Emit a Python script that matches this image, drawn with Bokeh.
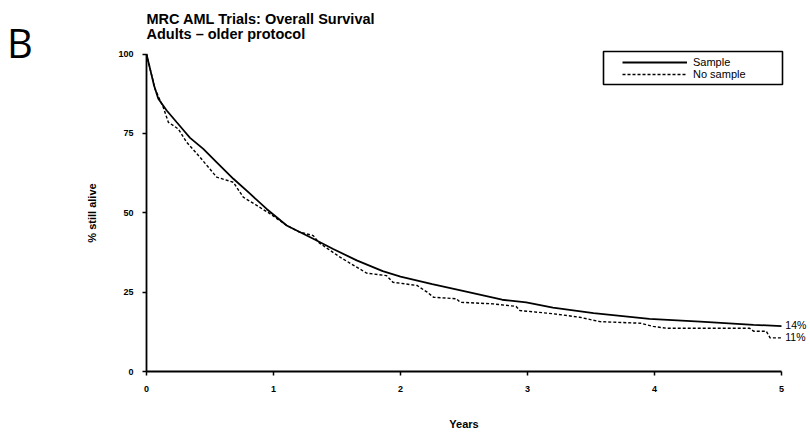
from bokeh.plotting import figure
from bokeh.models import Range1d, Label, BoxAnnotation, Legend, LegendItem, FixedTicker
from bokeh.embed import file_html
from bokeh.resources import INLINE

# ---- data ----
years_sample = [0, 0.03, 0.06, 0.093, 0.159, 0.238, 0.30, 0.343, 0.447, 0.553, 0.684, 0.815,
                0.946, 1.104, 1.313, 1.47, 1.655, 1.86, 2.0, 2.25, 2.5, 2.8, 2.99, 3.2,
                3.52, 3.96, 4.36, 4.78, 5.0]
surv_sample = [100, 95, 90, 85.9, 82.2, 78.5, 75.6, 73.6, 70.1, 65.9, 60.7, 56.0,
               51.2, 46.0, 41.8, 38.6, 35.0, 31.6, 29.9, 27.5, 25.3, 22.6, 21.8, 20.1,
               18.4, 16.6, 15.7, 14.7, 14.3]

years_nosample = [0, 0.067, 0.132, 0.172, 0.25, 0.316, 0.421, 0.553, 0.684, 0.762, 0.868,
                  0.972, 1.104, 1.2, 1.313, 1.36, 1.524, 1.733, 1.89, 1.94, 2.13, 2.21,
                  2.26, 2.44, 2.47, 2.73, 2.91, 2.94, 3.2, 3.41, 3.57, 3.89, 3.99, 4.1,
                  4.75, 4.78, 4.88, 4.91, 5.0]
surv_nosample = [100, 89, 83.2, 78.5, 76.4, 72.2, 67.5, 61.2, 59.6, 54.9, 52.3,
                 49.7, 46.0, 44.0, 42.8, 40.5, 36.0, 31.0, 30.2, 28.1, 27.1, 25.0,
                 23.4, 22.9, 21.8, 21.3, 20.5, 19.2, 18.2, 17.1, 15.7, 15.2, 14.2, 13.6,
                 13.6, 12.7, 12.7, 10.6, 10.6]

series_names = ["Sample", "No sample"]
end_labels = ["14%", "11%"]
x_ticks = [0, 1, 2, 3, 4, 5]
y_ticks = [0, 25, 50, 75, 100]
title_lines = ["MRC AML Trials: Overall Survival", "Adults \u2013 older protocol"]
panel_letter = "B"

FONT = "Liberation Sans"
W, H = 808, 432
X0, XS = 146.0, 127.0      # pixel of year 0, pixels per year
Y0, YS = 371.0, 3.175      # pixel of 0 %, pixels per percent

p = figure(width=W, height=H, output_backend="svg", toolbar_location=None,
           x_range=Range1d(-X0 / XS, (W - X0) / XS),
           y_range=Range1d((Y0 - H) / YS, Y0 / YS),
           min_border_left=0, min_border_right=0, min_border_top=0,
           min_border_bottom=0, x_axis_location="below", y_axis_location="left")
p.outline_line_color = None
p.grid.visible = False
p.background_fill_color = "white"

r1 = p.line(years_sample, surv_sample, line_color="black", line_width=1.8)
r2 = p.line(years_nosample, surv_nosample, line_color="black", line_width=1.4,
            line_dash="3 2")

for ax in (p.xaxis[0], p.yaxis[0]):
    ax.fixed_location = 0
    ax.axis_line_color = "black"
    ax.axis_line_width = 1.8
    ax.major_tick_line_width = 1.5
    ax.major_tick_in = 0
    ax.major_tick_out = 4
    ax.minor_tick_line_color = None
    ax.major_label_text_font = FONT
    ax.major_label_text_font_style = "bold"
    ax.major_label_text_font_size = "9px"
    ax.major_label_text_color = "black"
    ax.axis_label_text_font = FONT
    ax.axis_label_text_font_style = "bold"
    ax.axis_label_text_font_size = "11px"
    ax.axis_label_text_color = "black"

p.xaxis[0].ticker = FixedTicker(ticks=x_ticks)
p.xaxis[0].bounds = (0, 5)
p.xaxis[0].major_label_standoff = 10
p.xaxis[0].axis_label = "Years"
p.xaxis[0].axis_label_standoff = 23

p.yaxis[0].ticker = FixedTicker(ticks=y_ticks)
p.yaxis[0].bounds = (0, 100)
p.yaxis[0].major_label_standoff = 9
p.yaxis[0].major_label_orientation = "horizontal"
p.yaxis[0].axis_label = "% still alive"
p.yaxis[0].axis_label_standoff = 17

# legend box
box = BoxAnnotation(left=(603 - X0) / XS, right=(782 - X0) / XS,
                    top=(Y0 - 51) / YS, bottom=(Y0 - 84) / YS,
                    fill_alpha=0, line_color="black", line_alpha=1.0, line_width=1.6)
p.add_layout(box)

legend = Legend(items=[LegendItem(label=series_names[0], renderers=[r1]),
                       LegendItem(label=series_names[1], renderers=[r2])],
                location=(622, H - 80), padding=0, margin=0, spacing=0,
                glyph_width=65, glyph_height=12, label_standoff=6,
                label_height=12, label_text_color="black",
                label_text_font=FONT, label_text_font_size="11px",
                border_line_alpha=0, background_fill_alpha=0)
p.add_layout(legend)

# end-point labels
p.add_layout(Label(x=5.03, y=surv_sample[-1] + 0.2, text=end_labels[0], text_font=FONT,
                   text_font_size="10.5px", text_baseline="middle", text_align="left",
                   text_color="black"))
p.add_layout(Label(x=5.03, y=surv_nosample[-1] + 0.2, text=end_labels[1], text_font=FONT,
                   text_font_size="10.5px", text_baseline="middle", text_align="left",
                   text_color="black"))

# title lines
p.add_layout(Label(x=0, y=(Y0 - 18.3) / YS, text=title_lines[0], text_font=FONT,
                   text_font_style="bold", text_font_size="14.5px",
                   text_baseline="alphabetic", text_color="black"))
p.add_layout(Label(x=0, y=(Y0 - 33.3) / YS, text=title_lines[1], text_font=FONT,
                   text_font_style="bold", text_font_size="14.5px",
                   text_baseline="alphabetic", text_color="black"))

# panel letter
p.add_layout(Label(x=(6.5 - X0) / XS, y=(Y0 - 42) / YS, text=panel_letter,
                   text_font="Open Sans", text_font_size="40px",
                   text_baseline="alphabetic", text_color="black"))

open("out.html", "w").write(file_html(p, INLINE))
